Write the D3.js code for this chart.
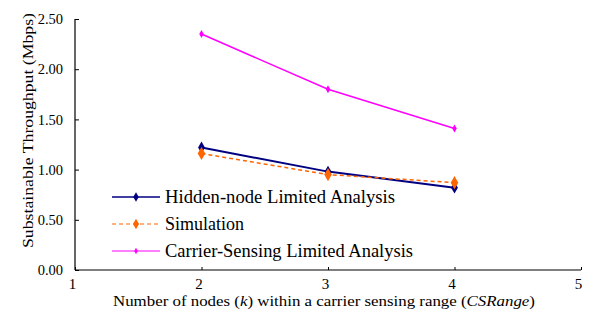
<!DOCTYPE html>
<html>
<head>
<meta charset="utf-8">
<script src="https://cdn.jsdelivr.net/npm/d3@7/dist/d3.min.js"></script>
<style>
  html, body { margin: 0; padding: 0; background: #fff; }
  svg { display: block; }
</style>
</head>
<body>
<svg id="chart" width="591" height="327"></svg>
<script>
// Number of nodes k within a carrier sensing range
const nodes = [2, 3, 4];
const hiddenNode = [1.22, 0.98, 0.82];
const simulation = [1.16, 0.95, 0.87];
const carrierSensing = [2.35, 1.80, 1.41];
const xTicks = [1, 2, 3, 4, 5];
const yTicks = [0, 0.5, 1.0, 1.5, 2.0, 2.5];
const seriesNames = ["Hidden-node Limited Analysis", "Simulation", "Carrier-Sensing Limited Analysis"];
const legendWidths = [230, 79, 248];

const FONT = "'Liberation Serif', 'Times New Roman', serif";

const series = [
  { name: seriesNames[0], values: hiddenNode, color: "#000080", width: 2, dash: null, marker: 4.5 },
  { name: seriesNames[1], values: simulation, color: "#FF6600", width: 1.5, dash: "4,3", marker: 5 },
  { name: seriesNames[2], values: carrierSensing, color: "#FF00FF", width: 1.5, dash: null, marker: 3 }
];

const svg = d3.select("#chart");
const x = d3.scaleLinear().domain([1, 5]).range([75, 581]);
const y = d3.scaleLinear().domain([0, 2.5]).range([270, 19]);

// axes: ticks point into the plot
const xAxis = d3.axisBottom(x).tickValues(xTicks).tickSize(-3).tickPadding(8).tickFormat(d3.format("d"));
const gx = svg.append("g").attr("transform", `translate(0,${y(0)})`).call(xAxis);
gx.select(".domain").attr("stroke", "#000").attr("stroke-width", 1.2).attr("d", `M${x(1)},0H${x(5)}`);
gx.selectAll(".tick line").attr("stroke", "#000");
gx.selectAll(".tick text").attr("dx", -3).style("font-size", "15px").style("font-family", FONT).attr("fill", "#000");

const yAxis = d3.axisLeft(y).tickValues(yTicks).tickSize(-4).tickPadding(12).tickFormat(d3.format(".2f"));
const gy = svg.append("g").attr("transform", `translate(${x(1)},0)`).call(yAxis);
gy.select(".domain").attr("stroke", "#000").attr("stroke-width", 1.2).attr("d", `M0,${y(0)}V${y(2.5)}`);
gy.selectAll(".tick line").attr("stroke", "#000");
gy.selectAll(".tick text").style("font-size", "14.5px").style("font-family", FONT).attr("fill", "#000");

// axis titles
svg.append("text")
  .attr("transform", `translate(33,${(y(0) + y(2.5)) / 2 - 14}) rotate(-90)`)
  .attr("text-anchor", "middle")
  .style("font-size", "14.5px").style("font-family", FONT)
  .attr("textLength", 235).attr("lengthAdjust", "spacingAndGlyphs")
  .text("Substainable Throughput (Mbps)");

const xt = svg.append("text")
  .attr("x", 113).attr("y", 306)
  .style("font-size", "14px").style("font-family", FONT)
  .attr("textLength", 422).attr("lengthAdjust", "spacingAndGlyphs");
xt.append("tspan").text("Number of nodes (");
xt.append("tspan").attr("font-style", "italic").text("k");
xt.append("tspan").text(") within a carrier sensing range (");
xt.append("tspan").attr("font-style", "italic").text("CSRange");
xt.append("tspan").text(")");

const diamond = d3.symbol().type(d3.symbolDiamond);
const line = d3.line().x((d, i) => x(nodes[i])).y(d => y(d));

series.forEach(s => {
  svg.append("path")
    .attr("d", line(s.values))
    .attr("fill", "none").attr("stroke", s.color)
    .attr("stroke-width", s.width).attr("stroke-dasharray", s.dash);
  svg.selectAll(null).data(s.values).enter().append("path")
    .attr("transform", (d, i) => `translate(${x(nodes[i])},${y(d)})`)
    .attr("d", diamond.size(s.marker * s.marker * 2)())
    .attr("fill", s.color);
});

// legend
const legend = svg.append("g");
series.forEach((s, i) => {
  const ly = 197 + i * 27;
  legend.append("line").attr("x1", 112).attr("x2", 160).attr("y1", ly).attr("y2", ly)
    .attr("stroke", s.color).attr("stroke-width", s.width === 2 ? 1.5 : 1.2).attr("stroke-dasharray", s.dash);
  legend.append("path").attr("transform", `translate(136,${ly})`)
    .attr("d", diamond.size(s.marker * s.marker * 1.3)()).attr("fill", s.color);
  legend.append("text").attr("x", 165).attr("y", ly + 6)
    .style("font-size", "18px").style("font-family", FONT)
    .attr("textLength", legendWidths[i]).attr("lengthAdjust", "spacingAndGlyphs")
    .text(s.name);
});
</script>
</body>
</html>
